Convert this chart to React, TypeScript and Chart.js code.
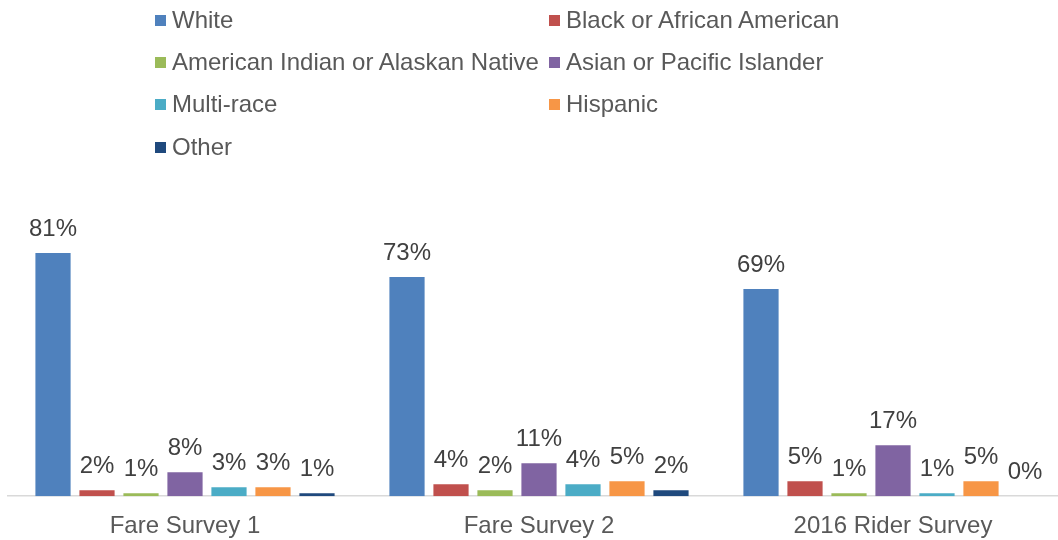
import React, { useEffect, useRef } from "react";
import { Chart, registerables } from "chart.js";

Chart.register(...registerables);

const categories = ["Fare Survey 1", "Fare Survey 2", "2016 Rider Survey"];
const seriesNames = [
  "White",
  "Black or African American",
  "American Indian or Alaskan Native",
  "Asian or Pacific Islander",
  "Multi-race",
  "Hispanic",
  "Other",
];
const white = [81, 73, 69];
const black = [2, 4, 5];
const amIndian = [1, 2, 1];
const asian = [8, 11, 17];
const multiRace = [3, 4, 1];
const hispanic = [3, 5, 5];
const other = [1, 2, 0];
const seriesValues = [white, black, amIndian, asian, multiRace, hispanic, other];
const seriesColors = ["#4F81BD", "#C0504D", "#9BBB59", "#8064A2", "#4BACC6", "#F79646", "#1F497D"];

const FONT = "'Liberation Sans', Arial, sans-serif";

const labelPlugin = {
  id: "barLabels",
  afterDatasetsDraw(chart: any) {
    const ctx = chart.ctx;
    ctx.save();
    ctx.font = `24px ${FONT}`;
    ctx.fillStyle = "#404040";
    ctx.textAlign = "center";
    ctx.textBaseline = "alphabetic";
    chart.data.datasets.forEach((ds: any, i: number) => {
      const meta = chart.getDatasetMeta(i);
      meta.data.forEach((bar: any, j: number) => {
        ctx.fillText(`${ds.data[j]}%`, bar.x, bar.y - 17);
      });
    });
    ctx.restore();
  },
};

export default function App() {
  const ref = useRef<HTMLCanvasElement>(null);
  useEffect(() => {
    if (!ref.current) return;
    const chart = new Chart(ref.current, {
      type: "bar",
      data: {
        labels: categories,
        datasets: seriesNames.map((name, i) => ({
          label: name,
          data: seriesValues[i],
          backgroundColor: seriesColors[i],
          categoryPercentage: 0.87,
          barPercentage: 0.8,
        })),
      },
      options: {
        animation: false,
        responsive: false,
        maintainAspectRatio: false,
        layout: { padding: { left: 8, right: 0, top: 226, bottom: 2 } },
        plugins: { legend: { display: false }, tooltip: { enabled: false } },
        scales: {
          x: {
            grid: { display: false },
            border: { display: true, color: "#D9D9D9", width: 1.5 },
            ticks: { color: "#595959", font: { family: FONT, size: 24 }, padding: 8 },
          },
          y: { display: false, min: 0, max: 90 },
        },
      },
      plugins: [labelPlugin],
    });
    return () => chart.destroy();
  }, []);

  const legendRowY = [20, 62, 104, 147];
  const colX = [155, 549];
  return (
    <div style={{ position: "fixed", left: 0, top: 0, width: 1058, height: 540, overflow: "hidden", background: "#fff" }}>
      <canvas ref={ref} width={1070} height={551} style={{ position: "absolute", left: 0, top: 0, width: 1070, height: 551 }} />
      {seriesNames.map((name, i) => (
        <div
          key={name}
          style={{
            position: "absolute",
            left: colX[i % 2],
            top: legendRowY[Math.floor(i / 2)] - 14,
            height: 28,
            display: "flex",
            alignItems: "center",
            fontFamily: FONT,
            fontSize: 24,
            color: "#595959",
            whiteSpace: "nowrap",
          }}
        >
          <span style={{ display: "inline-block", width: 11, height: 11, background: seriesColors[i], marginRight: 6 }} />
          {name}
        </div>
      ))}
    </div>
  );
}
